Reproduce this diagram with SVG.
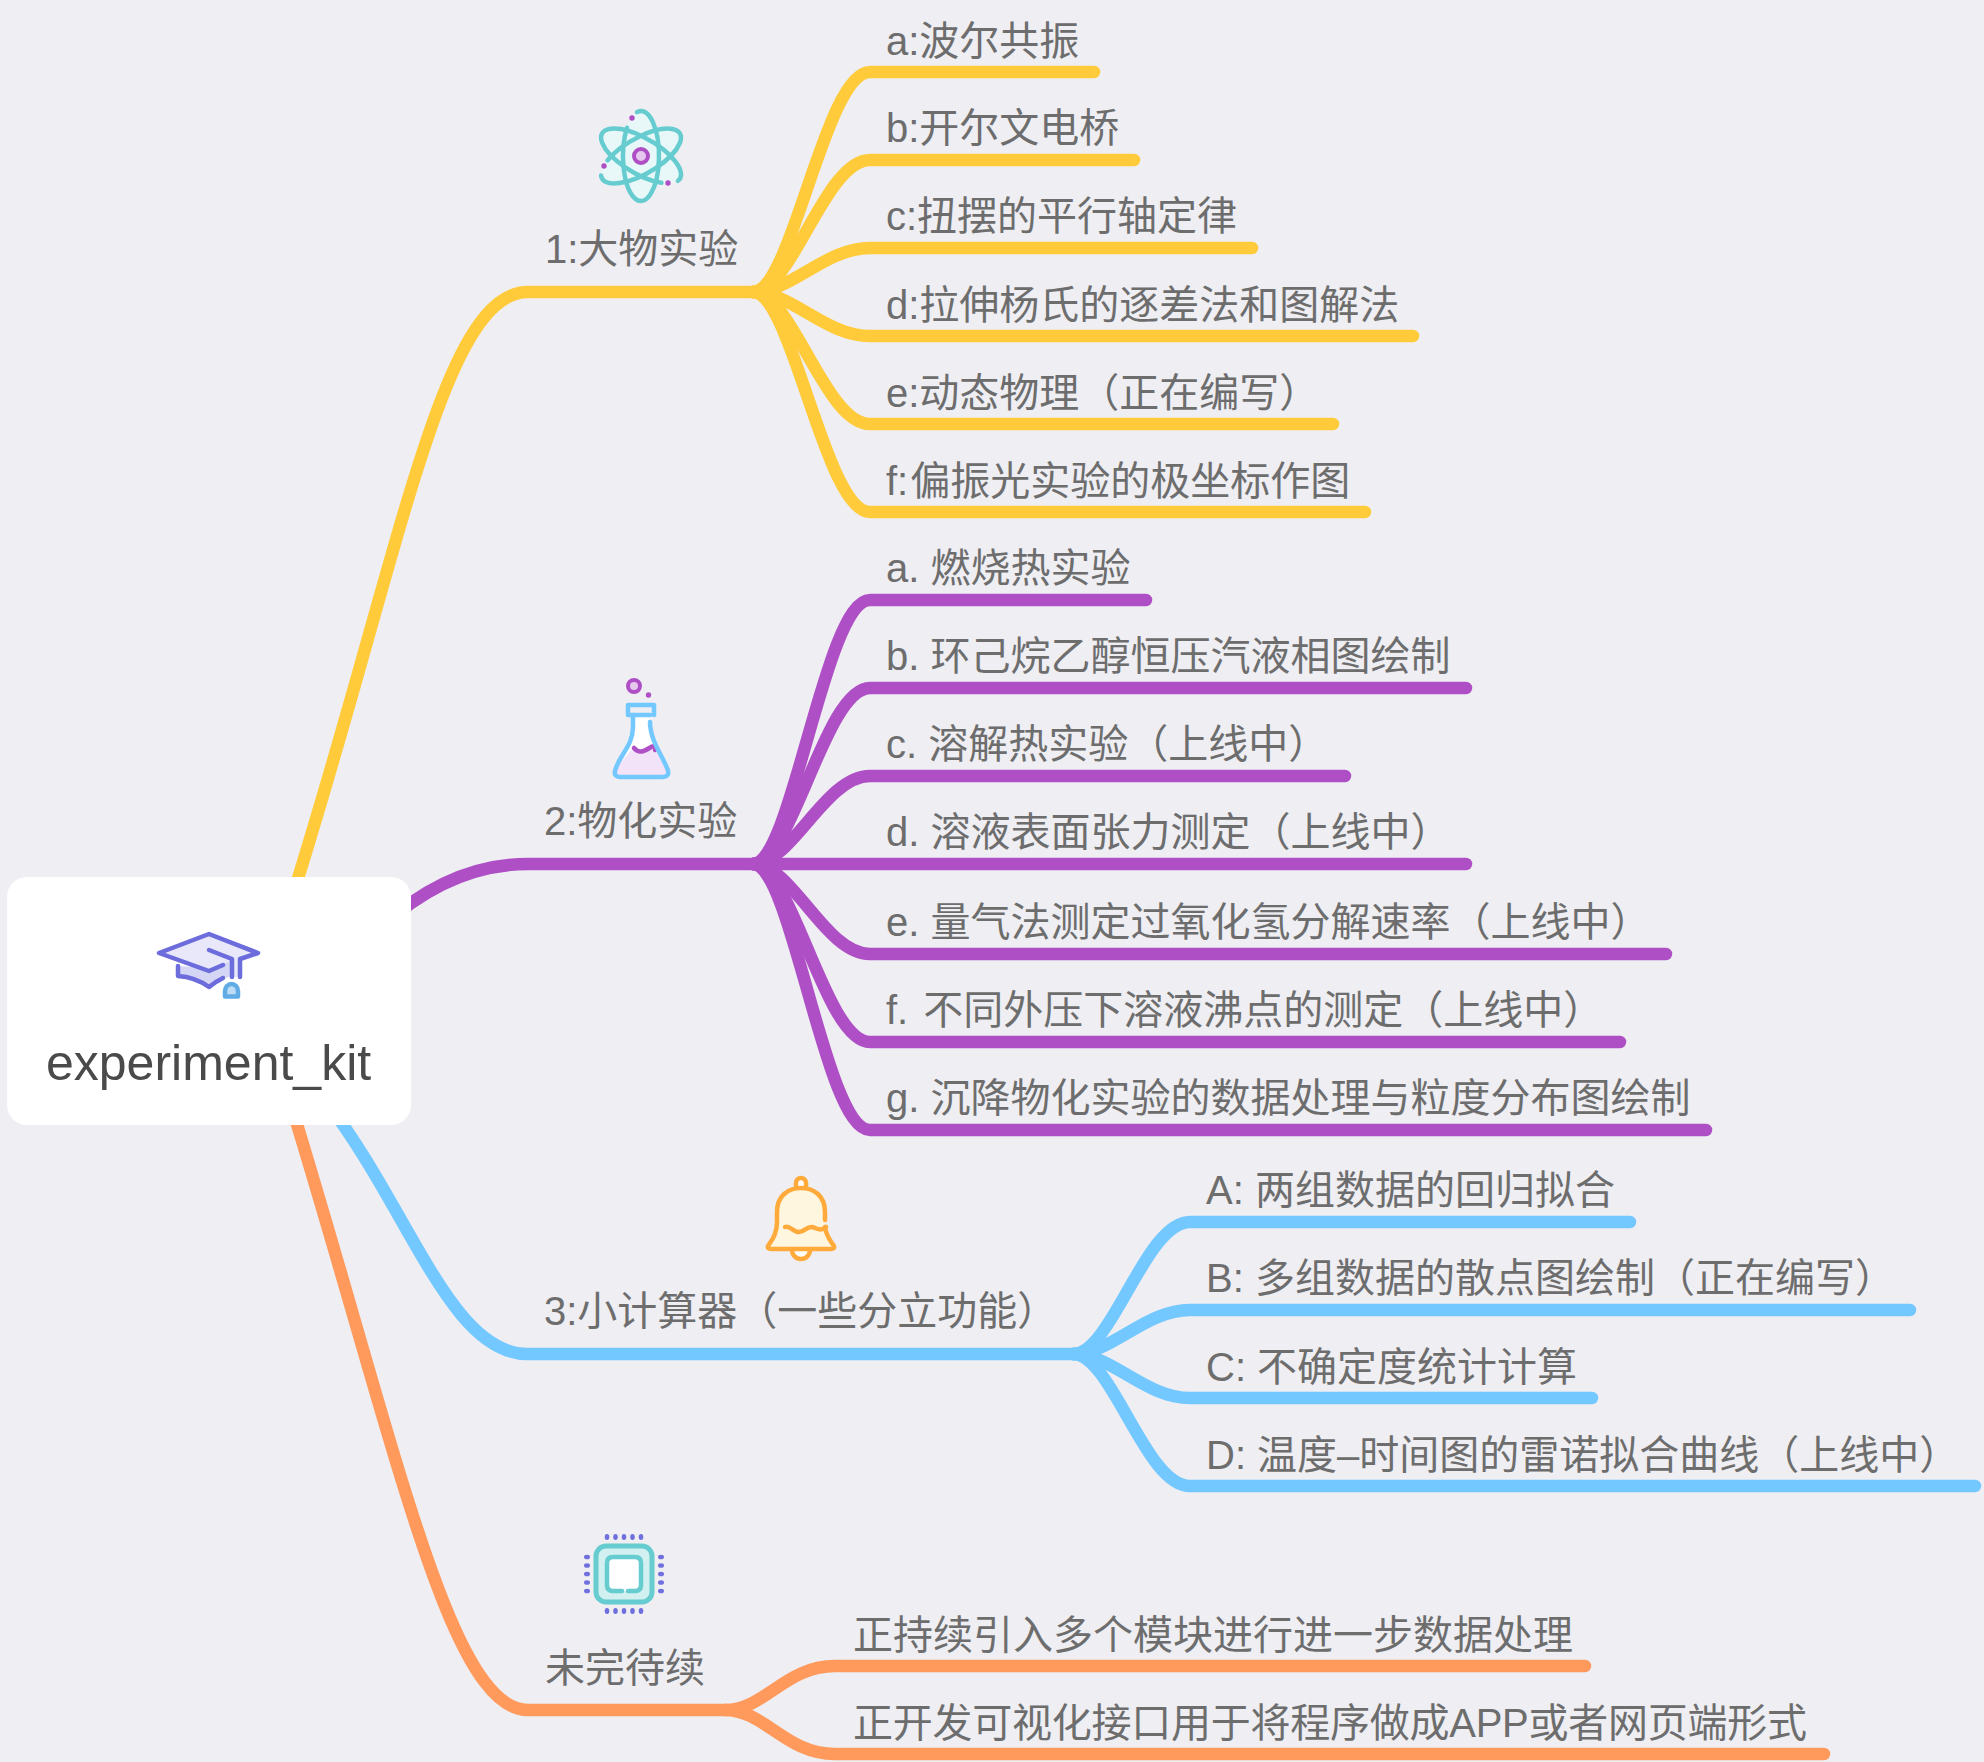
<svg xmlns="http://www.w3.org/2000/svg" width="1984" height="1762" viewBox="0 0 1984 1762">
<style>
text{font-family:"Liberation Sans","Noto Sans CJK SC",sans-serif;font-size:40px;fill:#6d6d6d;font-kerning:none}
.c{fill:none;stroke-width:12.500;stroke-linecap:round;stroke-linejoin:round}
.y{stroke:#FFCB3B}.p{stroke:#AF4FC5}.b{stroke:#73C8FF}.o{stroke:#FF9A5C}
.ic{stroke-width:4.500;stroke-linecap:round;stroke-linejoin:round}
</style>
<rect width="1984" height="1762" fill="#EEEEF3"/>
<g id="connectors">
<g class="c y">
<path d="M285 920C400 560 440 292 528 292H755"/>
<path d="M753 292C792 292 825 72 870 72H1094"/>
<path d="M753 292C792 292 825 160 870 160H1134"/>
<path d="M753 292C792 292 825 248 870 248H1252"/>
<path d="M753 292C792 292 825 336 870 336H1413"/>
<path d="M753 292C792 292 825 424 870 424H1333"/>
<path d="M753 292C792 292 825 512 870 512H1365"/>
</g>
<g class="c p">
<path d="M380 928C430 882 480 864 528 864H755"/>
<path d="M753 864C792 864 825 600 870 600H1146"/>
<path d="M753 864C792 864 825 688 870 688H1466"/>
<path d="M753 864C792 864 825 776 870 776H1345"/>
<path d="M753 864H1466"/>
<path d="M753 864C792 864 825 954 870 954H1666"/>
<path d="M753 864C792 864 825 1042 870 1042H1620"/>
<path d="M753 864C792 864 825 1130 870 1130H1706"/>
</g>
<g class="c b">
<path d="M325 1100C410 1210 450 1354 528 1354H1075"/>
<path d="M1073 1354C1112 1354 1145 1222 1190 1222H1630"/>
<path d="M1073 1354C1112 1354 1145 1310 1190 1310H1910"/>
<path d="M1073 1354C1112 1354 1145 1398 1190 1398H1592"/>
<path d="M1073 1354C1112 1354 1145 1486 1190 1486H1975"/>
</g>
<g class="c o">
<path d="M285 1085C395 1440 448 1710 528 1710H725"/>
<path d="M725 1710C765 1710 785 1666 835 1666H1585"/>
<path d="M725 1710C765 1710 785 1754 835 1754H1824"/>
</g>
</g>
<g id="root">
<rect x="7" y="877" width="404" height="248" rx="20" fill="#fff"/>
<path d="M178 966V976Q195 977 209 987Q215 982 223 978L232 977V959L209 968Z" fill="#D5D5F5"/>
<path d="M209 934L258 953L240 959V977H232V960L209 971L159 953Z" fill="#E8E8FA"/>
<g fill="none" stroke="#6C6CDC" class="ic">
<path d="M223 965L209 971L159 953L209 934L258 953L240 959V977"/>
<path d="M209 950L232 959V977"/>
<path d="M178 966V976Q195 977 209 987Q215 982 223 978"/>
</g>
<path d="M225 996.500V991C225 987 228 984 231.500 984S238 987 238 991V996.500Z" fill="#BEDDF5" stroke="#62ACE5" class="ic"/>
<text x="46" y="1080" style="font-size:50px;fill:#4a4a4a">experiment_kit</text>
</g>
<g id="n1">
<g transform="translate(641 156)">
<g fill="#E8F8F8">
<ellipse rx="18" ry="45"/><ellipse rx="18" ry="45" transform="rotate(60)"/><ellipse rx="18" ry="45" transform="rotate(-60)"/>
</g>
<g fill="none" stroke="#66CCD0" class="ic">
<path d="M-4 -43.900A18 45 0 1 1 -14 -28.300"/>
<path transform="rotate(-60)" d="M-3 44.400A18 45 0 1 0 -13 31.100"/>
<path transform="rotate(60)" d="M-3 44.400A18 45 0 1 0 -13 31.100"/>
</g>
<circle r="7" fill="#E6C8EE" stroke="#AF4FC5" stroke-width="4"/>
<g fill="#AF4FC5"><circle cx="-9" cy="-38" r="2.700"/><circle cx="-37" cy="10" r="2.700"/><circle cx="27" cy="27" r="2.700"/></g>
</g>
<text x="545" y="263">1:大物实验</text>
</g>
<g id="n1a"><text x="886" y="55">a:波尔共振</text></g>
<g id="n1b"><text x="886" y="142">b:开尔文电桥</text></g>
<g id="n1c"><text x="886" y="230">c:扭摆的平行轴定律</text></g>
<g id="n1d"><text x="886" y="319">d:拉伸杨氏的逐差法和图解法</text></g>
<g id="n1e"><text x="886" y="407">e:动态物理（正在编写）</text></g>
<g id="n1f"><text x="886" y="495">f:<tspan dx="2">偏振光实验的极坐标作图</tspan></text></g>
<g id="n2">
<path d="M633 715V727L616 768Q612 777 621 777H662Q671 777 667 768L650 730V715Z" fill="#fff"/>
<path d="M634 747Q642 752 650 747L658 752L667 768Q671 777 662 777H621Q612 777 616 768Z" fill="#F3E3F8"/>
<circle cx="634" cy="686" r="6" fill="#E6C8EE" stroke="#AF4FC5" stroke-width="4"/>
<circle cx="648.500" cy="695" r="2.700" fill="#AF4FC5"/>
<path d="M634 748C640 755 646 750 651 747C655 745 658 748 655 750" fill="none" stroke="#AF4FC5" class="ic"/>
<g fill="none" stroke="#73C8FF" class="ic">
<path d="M650 715H628V705H654V715"/>
<path d="M633 715V727C633 745 620 755 616 768Q612 777 621 777H662Q671 777 667 768C662 755 650 740 650 722"/>
</g>
<text x="544" y="835">2:物化实验</text>
</g>
<g id="n2a"><text x="886" y="582">a. 燃烧热实验</text></g>
<g id="n2b"><text x="886" y="670">b. 环己烷乙醇恒压汽液相图绘制</text></g>
<g id="n2c"><text x="886" y="758">c. 溶解热实验（上线中）</text></g>
<g id="n2d"><text x="886" y="846">d. 溶液表面张力测定（上线中）</text></g>
<g id="n2e"><text x="886" y="936">e. 量气法测定过氧化氢分解速率（上线中）</text></g>
<g id="n2f"><text x="886" y="1024">f. <tspan dx="4">不同外压下溶液沸点的测定（上线中）</tspan></text></g>
<g id="n2g"><text x="886" y="1112">g. 沉降物化实验的数据处理与粒度分布图绘制</text></g>
<g id="n3">
<path d="M792 1250A9 9 0 0 0 810 1250" fill="#fff" stroke="#FFAA3B" class="ic"/>
<path d="M796 1189V1183A5 5 0 0 1 806 1183V1189" fill="#fff" stroke="#FFAA3B" class="ic"/>
<path d="M777 1212C777 1196 788 1188 801 1188S825 1196 825 1212V1225C826 1236 830 1240 834 1246Q835 1249 831 1249H771Q767 1249 768 1246C772 1240 777 1234 777 1222Z" fill="#FFF6E0"/>
<path d="M825 1220V1212C825 1196 814 1188 801 1188S777 1196 777 1212V1222C777 1234 772 1240 768 1246Q767 1249 771 1249H831Q835 1249 834 1246C830 1240 826 1236 825 1227" fill="none" stroke="#FFAA3B" class="ic"/>
<path d="M785 1227C790 1225 793 1232 799 1232S807 1226 812 1227S820 1232 826 1227" fill="none" stroke="#FFAA3B" class="ic"/>
<text x="544" y="1325">3:小计算器（一些分立功能）</text>
</g>
<g id="n3a"><text x="1206" y="1204">A: 两组数据的回归拟合</text></g>
<g id="n3b"><text x="1206" y="1292">B: 多组数据的散点图绘制（正在编写）</text></g>
<g id="n3c"><text x="1206" y="1381">C: 不确定度统计计算</text></g>
<g id="n3d"><text x="1206" y="1469">D: 温度–时间图的雷诺拟合曲线（上线中）</text></g>
<g id="n4">
<rect x="596" y="1546" width="56" height="56" rx="10" fill="#D2F0F0" stroke="#66CCD0" stroke-width="5"/>
<rect x="607" y="1557" width="34" height="34" rx="6" fill="#fff"/>
<path d="M622 1591H613Q607 1591 607 1585V1563Q607 1557 613 1557H635Q641 1557 641 1563V1585Q641 1591 635 1591H628" fill="none" stroke="#66CCD0" class="ic"/>
<g fill="#6F6FDD">
<ellipse cx="607" cy="1537" rx="2.300" ry="3"/><ellipse cx="615.500" cy="1537" rx="2.300" ry="3"/><ellipse cx="624" cy="1537" rx="2.300" ry="3"/><ellipse cx="632.500" cy="1537" rx="2.300" ry="3"/><ellipse cx="641" cy="1537" rx="2.300" ry="3"/>
<ellipse cx="607" cy="1611" rx="2.300" ry="3"/><ellipse cx="615.500" cy="1611" rx="2.300" ry="3"/><ellipse cx="624" cy="1611" rx="2.300" ry="3"/><ellipse cx="632.500" cy="1611" rx="2.300" ry="3"/><ellipse cx="641" cy="1611" rx="2.300" ry="3"/>
<ellipse cx="587" cy="1557" rx="3" ry="2.300"/><ellipse cx="587" cy="1565.500" rx="3" ry="2.300"/><ellipse cx="587" cy="1574" rx="3" ry="2.300"/><ellipse cx="587" cy="1582.500" rx="3" ry="2.300"/><ellipse cx="587" cy="1591" rx="3" ry="2.300"/>
<ellipse cx="661" cy="1557" rx="3" ry="2.300"/><ellipse cx="661" cy="1565.500" rx="3" ry="2.300"/><ellipse cx="661" cy="1574" rx="3" ry="2.300"/><ellipse cx="661" cy="1582.500" rx="3" ry="2.300"/><ellipse cx="661" cy="1591" rx="3" ry="2.300"/>
</g>
<text x="545" y="1682">未完待续</text>
</g>
<g id="n4a"><text x="853" y="1649">正持续引入多个模块进行进一步数据处理</text></g>
<g id="n4b"><text x="853" y="1737" textLength="954">正开发可视化接口用于将程序做成APP或者网页端形式</text></g>
</svg>
